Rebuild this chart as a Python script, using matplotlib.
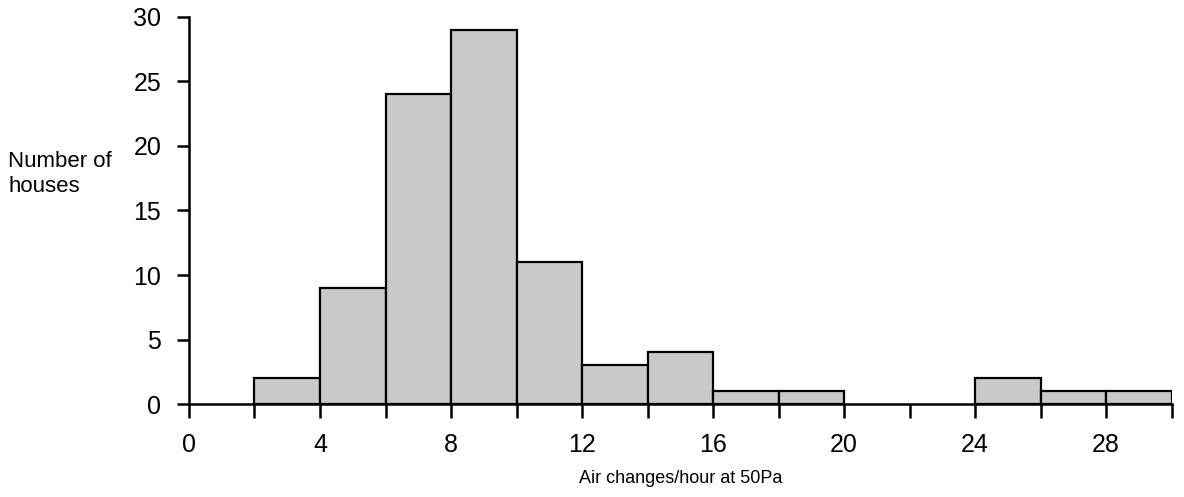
import matplotlib.pyplot as plt

plt.rcParams['font.family'] = ['Liberation Sans', 'DejaVu Sans']

# histogram of air change rates (bins 2 units wide)
bin_left = [2, 4, 6, 8, 10, 12, 14, 16, 18, 20, 22, 24, 26, 28]
counts = [2, 9, 24, 29, 11, 3, 4, 1, 1, 0, 0, 2, 1, 1]
bin_width = 2

major_ticks = [0, 4, 8, 12, 16, 20, 24, 28]
minor_ticks = [2, 6, 10, 14, 18, 22, 26, 30]
y_ticks = [0, 5, 10, 15, 20, 25, 30]


def hist_chart(fig_name='out.png'):
    fig = plt.figure(figsize=(11.84, 4.97), dpi=100)
    ax = fig.add_axes([0.1596, 0.187, 0.83, 0.779])

    for left, c in zip(bin_left, counts):
        if c > 0:
            ax.bar(left, c, width=bin_width, align='edge', color='#c9c9c9',
                   edgecolor='black', linewidth=1.6, zorder=2)

    ax.set_xlim(0, 30)
    ax.set_ylim(0, 30)
    for s in ['top', 'right']:
        ax.spines[s].set_visible(False)
    for s in ['left', 'bottom']:
        ax.spines[s].set_linewidth(1.8)
        ax.spines[s].set_zorder(3)

    ax.set_xticks(major_ticks)
    ax.set_xticks(minor_ticks, minor=True)
    ax.set_yticks(y_ticks)
    ax.tick_params(axis='x', which='both', direction='out', length=10,
                   width=1.8, pad=11, labelsize=18)
    ax.tick_params(axis='y', direction='out', length=9, width=1.8, pad=11,
                   labelsize=18)

    ax.set_xlabel('Air changes/hour at 50Pa', fontsize=13, labelpad=9)
    fig.text(0.007, 0.65, 'Number of\nhouses', fontsize=16, ha='left',
             va='center', linespacing=1.2)

    fig.savefig(fig_name, dpi=100)
    return fig_name


hist_chart()
